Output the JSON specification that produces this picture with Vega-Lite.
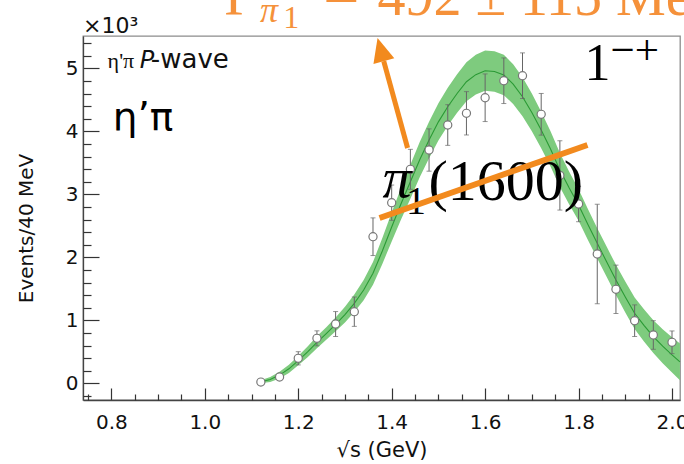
{
  "$schema": "https://vega.github.io/schema/vega-lite/v6.json",
  "width": 597,
  "height": 364,
  "autosize": {"type": "none"},
  "padding": {"left": 83, "top": 36, "right": 4, "bottom": 64},
  "background": "white",
  "config": {
    "view": {"stroke": "#8c8c8c", "strokeWidth": 1.3},
    "font": "DejaVu Sans",
    "axis": {"grid": false, "labelFont": "DejaVu Sans", "titleFont": "DejaVu Sans", "labelColor": "#111", "titleColor": "#111", "titleFontWeight": "normal", "domainColor": "#444", "domainWidth": 1.3, "tickColor": "#333", "tickWidth": 1.2, "labelOverlap": false, "labelFlush": false}
  },
  "datasets": {
    "fit": [
      {"x": 1.115, "fit": 15, "lo": -5, "hi": 35},
      {"x": 1.14, "fit": 60, "lo": 20, "hi": 100},
      {"x": 1.16, "fit": 130, "lo": 75, "hi": 185},
      {"x": 1.18, "fit": 230, "lo": 165, "hi": 295},
      {"x": 1.2, "fit": 360, "lo": 285, "hi": 435},
      {"x": 1.22, "fit": 500, "lo": 415, "hi": 585},
      {"x": 1.24, "fit": 650, "lo": 555, "hi": 745},
      {"x": 1.26, "fit": 790, "lo": 690, "hi": 890},
      {"x": 1.28, "fit": 935, "lo": 825, "hi": 1045},
      {"x": 1.3, "fit": 1090, "lo": 965, "hi": 1215},
      {"x": 1.32, "fit": 1270, "lo": 1130, "hi": 1410},
      {"x": 1.34, "fit": 1480, "lo": 1320, "hi": 1640},
      {"x": 1.36, "fit": 1746, "lo": 1566, "hi": 1926},
      {"x": 1.38, "fit": 2100, "lo": 1895, "hi": 2305},
      {"x": 1.4, "fit": 2480, "lo": 2250, "hi": 2710},
      {"x": 1.42, "fit": 2850, "lo": 2600, "hi": 3100},
      {"x": 1.44, "fit": 3200, "lo": 2930, "hi": 3470},
      {"x": 1.46, "fit": 3550, "lo": 3270, "hi": 3830},
      {"x": 1.48, "fit": 3862, "lo": 3572, "hi": 4152},
      {"x": 1.5, "fit": 4150, "lo": 3855, "hi": 4445},
      {"x": 1.52, "fit": 4390, "lo": 4090, "hi": 4690},
      {"x": 1.54, "fit": 4600, "lo": 4295, "hi": 4905},
      {"x": 1.56, "fit": 4787, "lo": 4477, "hi": 5097},
      {"x": 1.58, "fit": 4900, "lo": 4585, "hi": 5215},
      {"x": 1.6, "fit": 4962, "lo": 4642, "hi": 5282},
      {"x": 1.62, "fit": 4950, "lo": 4630, "hi": 5270},
      {"x": 1.64, "fit": 4894, "lo": 4574, "hi": 5214},
      {"x": 1.66, "fit": 4750, "lo": 4435, "hi": 5065},
      {"x": 1.68, "fit": 4549, "lo": 4239, "hi": 4859},
      {"x": 1.7, "fit": 4300, "lo": 4000, "hi": 4600},
      {"x": 1.72, "fit": 4021, "lo": 3731, "hi": 4311},
      {"x": 1.74, "fit": 3720, "lo": 3440, "hi": 4000},
      {"x": 1.76, "fit": 3386, "lo": 3116, "hi": 3656},
      {"x": 1.78, "fit": 3100, "lo": 2840, "hi": 3360},
      {"x": 1.8, "fit": 2830, "lo": 2580, "hi": 3080},
      {"x": 1.82, "fit": 2520, "lo": 2275, "hi": 2765},
      {"x": 1.84, "fit": 2222, "lo": 1982, "hi": 2462},
      {"x": 1.86, "fit": 1930, "lo": 1690, "hi": 2170},
      {"x": 1.88, "fit": 1640, "lo": 1400, "hi": 1880},
      {"x": 1.9, "fit": 1370, "lo": 1125, "hi": 1615},
      {"x": 1.92, "fit": 1111, "lo": 861, "hi": 1361},
      {"x": 1.94, "fit": 920, "lo": 665, "hi": 1175},
      {"x": 1.96, "fit": 740, "lo": 480, "hi": 1000},
      {"x": 1.98, "fit": 590, "lo": 320, "hi": 860},
      {"x": 2.0, "fit": 450, "lo": 170, "hi": 730},
      {"x": 2.017, "fit": 340, "lo": 50, "hi": 630}
    ],
    "points": [
      {"x": 1.12, "y": 20, "lo": -10, "hi": 50},
      {"x": 1.16, "y": 100, "lo": 70, "hi": 130},
      {"x": 1.2, "y": 397, "lo": 292, "hi": 502},
      {"x": 1.24, "y": 714, "lo": 595, "hi": 833},
      {"x": 1.28, "y": 941, "lo": 743, "hi": 1139},
      {"x": 1.32, "y": 1137, "lo": 904, "hi": 1370},
      {"x": 1.36, "y": 2327, "lo": 2028, "hi": 2626},
      {"x": 1.4, "y": 2867, "lo": 2587, "hi": 3147},
      {"x": 1.44, "y": 3397, "lo": 3080, "hi": 3714},
      {"x": 1.48, "y": 3703, "lo": 3367, "hi": 4039},
      {"x": 1.52, "y": 4100, "lo": 3777, "hi": 4423},
      {"x": 1.56, "y": 4286, "lo": 3942, "hi": 4630},
      {"x": 1.6, "y": 4533, "lo": 4155, "hi": 4911},
      {"x": 1.64, "y": 4803, "lo": 4441, "hi": 5165},
      {"x": 1.68, "y": 4883, "lo": 4521, "hi": 5245},
      {"x": 1.72, "y": 4270, "lo": 3939, "hi": 4601},
      {"x": 1.76, "y": 3300, "lo": 2750, "hi": 3850},
      {"x": 1.8, "y": 2846, "lo": 2565, "hi": 3127},
      {"x": 1.84, "y": 2052, "lo": 1263, "hi": 2841},
      {"x": 1.88, "y": 1492, "lo": 1108, "hi": 1876},
      {"x": 1.92, "y": 994, "lo": 743, "hi": 1245},
      {"x": 1.96, "y": 767, "lo": 540, "hi": 994},
      {"x": 2.0, "y": 651, "lo": 471, "hi": 831}
    ],
    "anchor": [{}]
  },
  "layer": [
    {
      "data": {"name": "fit"},
      "mark": {"type": "area", "color": "#7ecb7e", "opacity": 1},
      "encoding": {
        "x": {"field": "x", "type": "quantitative", "scale": {"domain": [0.7393, 2.0171], "nice": false, "zero": false}, "axis": {"orient": "bottom", "values": [0.8, 1.0, 1.2, 1.4, 1.6, 1.8, 2.0], "format": ".1f", "tickSize": -12, "labelFontSize": 20, "labelPadding": 24, "title": "√s (GeV)", "titleFontSize": 21, "titleY": 50, "titleBaseline": "middle"}},
        "y": {"field": "lo", "type": "quantitative", "scale": {"domain": [-265, 5513], "nice": false, "zero": false}, "axis": {"orient": "left", "values": [0, 1000, 2000, 3000, 4000, 5000], "labelExpr": "datum.value / 1000", "tickSize": -16, "labelFontSize": 20, "labelPadding": 21, "title": "Events/40 MeV", "titleFontSize": 20, "titleX": -57, "titleY": 192, "titleAlign": "center", "titleBaseline": "middle", "titleAngle": 270}},
        "y2": {"field": "hi"}
      }
    },
    {
      "data": {"name": "fit"},
      "mark": {"type": "line", "color": "#2b9a35", "strokeWidth": 1.1},
      "encoding": {
        "x": {"field": "x", "type": "quantitative", "scale": {"domain": [0.7393, 2.0171], "nice": false, "zero": false}, "axis": {"orient": "bottom", "values": [0.75, 0.85, 0.9, 0.95, 1.05, 1.1, 1.15, 1.25, 1.3, 1.35, 1.45, 1.5, 1.55, 1.65, 1.7, 1.75, 1.85, 1.9, 1.95], "tickSize": -6, "labels": false, "domain": false, "title": null}},
        "y": {"field": "fit", "type": "quantitative", "scale": {"domain": [-265, 5513], "nice": false, "zero": false}, "axis": {"orient": "left", "values": [-200, 200, 400, 600, 800, 1200, 1400, 1600, 1800, 2200, 2400, 2600, 2800, 3200, 3400, 3600, 3800, 4200, 4400, 4600, 4800, 5200, 5400], "tickSize": -8, "labels": false, "domain": false, "title": null}}
      }
    },
    {
      "data": {"name": "points"},
      "mark": {"type": "rule", "color": "#666", "strokeWidth": 1},
      "encoding": {
        "x": {"field": "x", "type": "quantitative", "axis": null},
        "y": {"field": "lo", "type": "quantitative", "axis": null},
        "y2": {"field": "hi"}
      }
    },
    {
      "data": {"name": "points"},
      "mark": {"type": "tick", "orient": "horizontal", "color": "#666", "size": 5, "thickness": 1},
      "encoding": {
        "x": {"field": "x", "type": "quantitative", "axis": null},
        "y": {"field": "lo", "type": "quantitative", "axis": null}
      }
    },
    {
      "data": {"name": "points"},
      "mark": {"type": "tick", "orient": "horizontal", "color": "#666", "size": 5, "thickness": 1},
      "encoding": {
        "x": {"field": "x", "type": "quantitative", "axis": null},
        "y": {"field": "hi", "type": "quantitative", "axis": null}
      }
    },
    {
      "data": {"name": "points"},
      "mark": {"type": "point", "shape": "circle", "filled": false, "fill": "white", "fillOpacity": 1, "stroke": "#777", "strokeWidth": 1.2, "size": 66, "opacity": 1},
      "encoding": {
        "x": {"field": "x", "type": "quantitative", "axis": null},
        "y": {"field": "y", "type": "quantitative", "axis": null}
      }
    },
    {
      "data": {"name": "anchor"},
      "mark": {"type": "text", "text": "×10³", "font": "DejaVu Sans", "fontSize": 22, "align": "left", "baseline": "alphabetic", "color": "#111", "clip": false},
      "encoding": {"x": {"datum": 0.7393, "type": "quantitative", "axis": null}, "y": {"datum": 5560, "type": "quantitative", "axis": null}}
    },
    {
      "data": {"name": "anchor"},
      "mark": {"type": "text", "text": "η'π", "font": "Liberation Serif", "fontSize": 22, "align": "left", "baseline": "alphabetic", "color": "#111"},
      "encoding": {"x": {"datum": 0.792, "type": "quantitative", "axis": null}, "y": {"datum": 5000, "type": "quantitative", "axis": null}}
    },
    {
      "data": {"name": "anchor"},
      "mark": {"type": "text", "text": "P", "font": "DejaVu Sans", "fontStyle": "italic", "fontSize": 24, "align": "left", "baseline": "alphabetic", "color": "#111"},
      "encoding": {"x": {"datum": 0.8606, "type": "quantitative", "axis": null}, "y": {"datum": 5000, "type": "quantitative", "axis": null}}
    },
    {
      "data": {"name": "anchor"},
      "mark": {"type": "text", "text": "-wave", "font": "DejaVu Sans", "fontSize": 26, "align": "left", "baseline": "alphabetic", "color": "#111"},
      "encoding": {"x": {"datum": 0.8845, "type": "quantitative", "axis": null}, "y": {"datum": 5000, "type": "quantitative", "axis": null}}
    },
    {
      "data": {"name": "anchor"},
      "mark": {"type": "text", "text": "η’π", "font": "DejaVu Sans", "fontSize": 39, "align": "left", "baseline": "alphabetic", "color": "#000"},
      "encoding": {"x": {"datum": 0.8028, "type": "quantitative", "axis": null}, "y": {"datum": 4021, "type": "quantitative", "axis": null}}
    },
    {
      "data": {"name": "anchor"},
      "mark": {"type": "text", "text": "1", "font": "Liberation Serif", "fontSize": 52, "align": "left", "baseline": "alphabetic", "color": "#000"},
      "encoding": {"x": {"datum": 1.8125, "type": "quantitative", "axis": null}, "y": {"datum": 4814, "type": "quantitative", "axis": null}}
    },
    {
      "data": {"name": "anchor"},
      "mark": {"type": "text", "text": "−+", "font": "Liberation Serif", "fontSize": 43, "align": "left", "baseline": "alphabetic", "color": "#000"},
      "encoding": {"x": {"datum": 1.8686, "type": "quantitative", "axis": null}, "y": {"datum": 5068, "type": "quantitative", "axis": null}}
    },
    {
      "data": {"name": "anchor"},
      "mark": {"type": "text", "text": "π", "font": "Liberation Serif", "fontStyle": "italic", "fontSize": 58, "align": "left", "baseline": "alphabetic", "color": "#000"},
      "encoding": {"x": {"datum": 1.3804, "type": "quantitative", "axis": null}, "y": {"datum": 2960, "type": "quantitative", "axis": null}}
    },
    {
      "data": {"name": "anchor"},
      "mark": {"type": "text", "text": "1", "font": "Liberation Serif", "fontSize": 40, "align": "left", "baseline": "alphabetic", "color": "#000"},
      "encoding": {"x": {"datum": 1.4305, "type": "quantitative", "axis": null}, "y": {"datum": 2680, "type": "quantitative", "axis": null}}
    },
    {
      "data": {"name": "anchor"},
      "mark": {"type": "text", "text": "(1600)", "font": "Liberation Serif", "fontSize": 58, "align": "left", "baseline": "alphabetic", "color": "#000"},
      "encoding": {"x": {"datum": 1.4788, "type": "quantitative", "axis": null}, "y": {"datum": 2910, "type": "quantitative", "axis": null}}
    },
    {
      "data": {"name": "anchor"},
      "mark": {"type": "rule", "color": "#f28a1e", "strokeWidth": 6, "strokeCap": "butt"},
      "encoding": {"x": {"datum": 1.374, "type": "quantitative", "axis": null}, "y": {"datum": 2624, "type": "quantitative", "axis": null}, "x2": {"datum": 1.819}, "y2": {"datum": 3783}}
    },
    {
      "data": {"name": "anchor"},
      "mark": {"type": "rule", "color": "#f28a1e", "strokeWidth": 5, "strokeCap": "butt"},
      "encoding": {"x": {"datum": 1.434, "type": "quantitative", "axis": null}, "y": {"datum": 3735, "type": "quantitative", "axis": null}, "x2": {"datum": 1.383}, "y2": {"datum": 5113}}
    },
    {
      "data": {"name": "anchor"},
      "mark": {"type": "point", "shape": "M0,-1L-0.9,1L0.9,1Z", "filled": true, "color": "#f28a1e", "opacity": 1, "size": 576, "angle": 344.7, "clip": false},
      "encoding": {"x": {"datum": 1.3765, "type": "quantitative", "axis": null}, "y": {"datum": 5297, "type": "quantitative", "axis": null}}
    },
    {
      "data": {"name": "anchor"},
      "mark": {"type": "text", "text": "Γ", "font": "Liberation Serif", "fontSize": 56, "align": "left", "baseline": "alphabetic", "color": "#f5913a", "clip": false},
      "encoding": {"x": {"datum": 1.0424, "type": "quantitative", "axis": null}, "y": {"datum": 5846, "type": "quantitative", "axis": null}}
    },
    {
      "data": {"name": "anchor"},
      "mark": {"type": "text", "text": "π", "font": "Liberation Serif", "fontStyle": "italic", "fontSize": 36, "align": "left", "baseline": "alphabetic", "color": "#f5913a", "clip": false},
      "encoding": {"x": {"datum": 1.118, "type": "quantitative", "axis": null}, "y": {"datum": 5735, "type": "quantitative", "axis": null}}
    },
    {
      "data": {"name": "anchor"},
      "mark": {"type": "text", "text": "1", "font": "Liberation Serif", "fontSize": 32, "align": "left", "baseline": "alphabetic", "color": "#f5913a", "clip": false},
      "encoding": {"x": {"datum": 1.168, "type": "quantitative", "axis": null}, "y": {"datum": 5640, "type": "quantitative", "axis": null}}
    },
    {
      "data": {"name": "anchor"},
      "mark": {"type": "text", "text": "=", "font": "Liberation Serif", "fontSize": 64, "align": "left", "baseline": "alphabetic", "color": "#f5913a", "clip": false},
      "encoding": {"x": {"datum": 1.2537, "type": "quantitative", "axis": null}, "y": {"datum": 5846, "type": "quantitative", "axis": null}}
    },
    {
      "data": {"name": "anchor"},
      "mark": {"type": "text", "text": "492 ± 115 MeV", "font": "Liberation Serif", "fontSize": 56, "align": "left", "baseline": "alphabetic", "color": "#f5913a", "clip": false},
      "encoding": {"x": {"datum": 1.3694, "type": "quantitative", "axis": null}, "y": {"datum": 5846, "type": "quantitative", "axis": null}}
    }
  ],
  "resolve": {"axis": {"x": "independent", "y": "independent"}}
}
